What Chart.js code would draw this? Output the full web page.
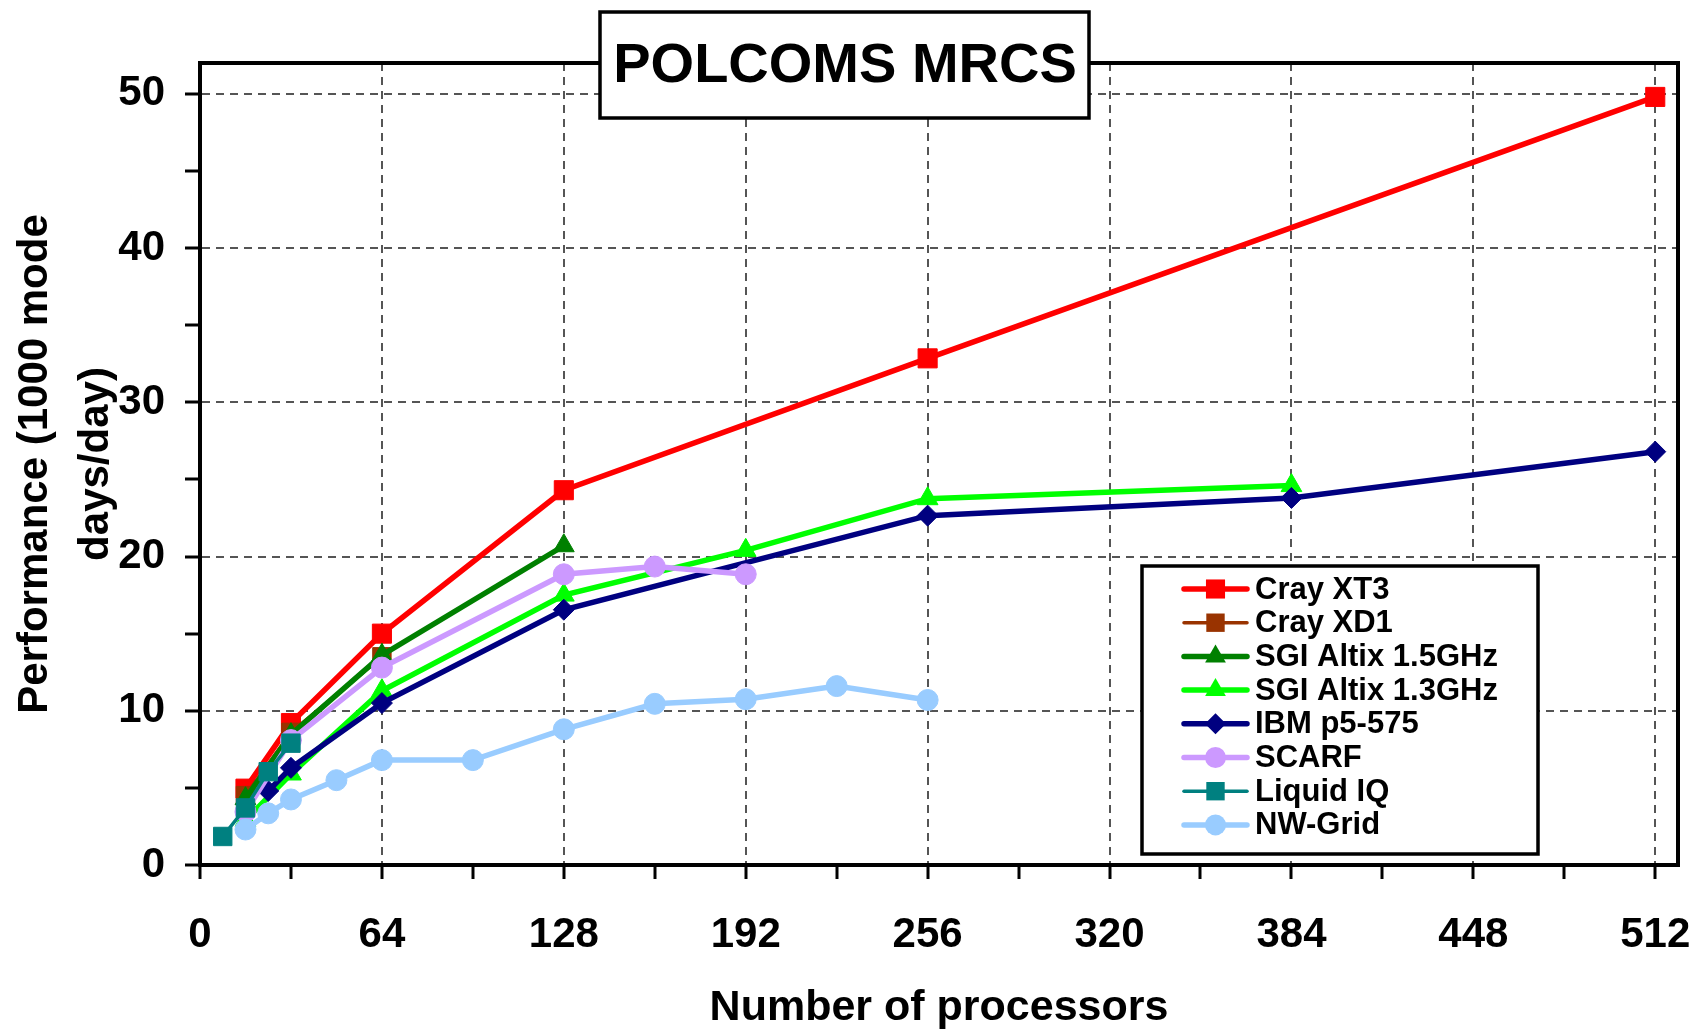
<!DOCTYPE html>
<html>
<head>
<meta charset="utf-8">
<title>POLCOMS MRCS</title>
<script src="https://cdn.jsdelivr.net/npm/chart.js@4.4.1/dist/chart.umd.min.js"></script>
<style>
  html, body { margin: 0; padding: 0; background: #fff; }
  #wrap { width: 1700px; height: 1031px; position: relative; }
</style>
</head>
<body>
<div id="wrap"><canvas id="perfChart"></canvas></div>
<script>
// POLCOMS MRCS - performance against number of processors

const chartTitle = "POLCOMS MRCS";
const xTitle = "Number of processors";
const yTitle = ["Performance (1000 mode", "days/day)"];

const seriesNames = ["Cray XT3", "Cray XD1", "SGI Altix 1.5GHz", "SGI Altix 1.3GHz",
                     "IBM p5-575", "SCARF", "Liquid IQ", "NW-Grid"];

// values
const crayXT3Procs = [16, 32, 64, 128, 256, 512];
const crayXT3Perf  = [4.95, 9.2, 15.0, 24.3, 32.85, 49.8];

const crayXD1Procs = [16, 32, 64];
const crayXD1Perf  = [4.5, 8.6, 13.5];

const altix15Procs = [16, 32, 64, 128];
const altix15Perf  = [4.3, 8.45, 13.6, 20.7];

const altix13Procs = [16, 32, 64, 128, 192, 256, 384];
const altix13Perf  = [2.9, 5.9, 11.3, 17.5, 20.4, 23.75, 24.6];

const ibmProcs = [24, 32, 64, 128, 256, 384, 512];
const ibmPerf  = [4.8, 6.3, 10.5, 16.55, 22.65, 23.8, 26.8];

const scarfProcs = [16, 32, 64, 128, 160, 192];
const scarfPerf  = [3.45, 8.1, 12.8, 18.85, 19.35, 18.85];

const liquidProcs = [8, 16, 24, 32];
const liquidPerf  = [1.85, 3.7, 6.05, 7.9];

const nwGridProcs = [16, 24, 32, 48, 64, 96, 128, 160, 192, 224, 256];
const nwGridPerf  = [2.3, 3.35, 4.25, 5.5, 6.8, 6.8, 8.8, 10.45, 10.75, 11.6, 10.7];

const xTickLabels = [0, 64, 128, 192, 256, 320, 384, 448, 512];
const yTickLabels = [0, 10, 20, 30, 40, 50];

// styles
const seriesColors = ["#FF0000", "#993300", "#008000", "#00FF00", "#000080", "#CC99FF", "#008080", "#99CCFF"];
const seriesMarkers = ["rect", "rect", "triangle", "triangle", "rectRot", "circle", "rect", "circle"];
const markerSizes = [13.5, 13, 12, 12, 10.5, 10.5, 13, 10.5];
const lineWidths = [5.5, 3.5, 5.5, 5.5, 5.5, 5.5, 3.5, 5.5];

const allProcs = [crayXT3Procs, crayXD1Procs, altix15Procs, altix13Procs, ibmProcs, scarfProcs, liquidProcs, nwGridProcs];
const allPerf  = [crayXT3Perf, crayXD1Perf, altix15Perf, altix13Perf, ibmPerf, scarfPerf, liquidPerf, nwGridPerf];

const fontFamily = "'Liberation Sans', Arial, sans-serif";
Chart.defaults.font.family = fontFamily;
Chart.defaults.color = '#000';

const datasets = seriesNames.map(function(name, i) {
    return {
        label: name,
        data: allProcs[i].map(function(p, j) { return { x: p, y: allPerf[i][j] }; }),
        borderColor: seriesColors[i],
        backgroundColor: seriesColors[i],
        borderWidth: lineWidths[i],
        pointStyle: seriesMarkers[i],
        pointRadius: markerSizes[i],
        pointHoverRadius: markerSizes[i],
        pointBorderWidth: 1,
        pointBorderColor: seriesColors[i],
        pointBackgroundColor: seriesColors[i],
        tension: 0,
        order: seriesNames.length - i   // later series drawn on top
    };
});

function drawMarker(ctx, style, x, y, r, color) {
    ctx.fillStyle = color;
    ctx.beginPath();
    if (style === 'rect') {
        const s = Math.SQRT1_2 * r;
        ctx.rect(x - s, y - s, 2 * s, 2 * s);
    } else if (style === 'rectRot') {
        ctx.moveTo(x - r, y); ctx.lineTo(x, y - r); ctx.lineTo(x + r, y); ctx.lineTo(x, y + r);
        ctx.closePath();
    } else if (style === 'triangle') {
        ctx.moveTo(x, y - r);
        ctx.lineTo(x + Math.sin(2 * Math.PI / 3) * r, y + r / 2);
        ctx.lineTo(x - Math.sin(2 * Math.PI / 3) * r, y + r / 2);
        ctx.closePath();
    } else {
        ctx.arc(x, y, r, 0, Math.PI * 2);
    }
    ctx.fill();
}

// frame, title box and legend box
const decorPlugin = {
    id: 'decor',
    afterDraw(chart) {
        const ctx = chart.ctx;
        const a = chart.chartArea;
        ctx.save();
        ctx.lineWidth = 4;
        ctx.strokeStyle = '#000';
        ctx.setLineDash([]);
        ctx.strokeRect(a.left, a.top, a.right - a.left, a.bottom - a.top);

        // title box
        ctx.fillStyle = '#fff';
        ctx.fillRect(600, 12, 489, 106);
        ctx.lineWidth = 3.5;
        ctx.strokeRect(600, 12, 489, 106);
        ctx.fillStyle = '#000';
        ctx.font = "bold 56px " + fontFamily;
        ctx.textAlign = 'center';
        ctx.textBaseline = 'middle';
        ctx.fillText(chartTitle, 845, 67);

        // legend box
        const lx = 1142, ly = 566, lw = 396, lh = 288;
        ctx.fillStyle = '#fff';
        ctx.fillRect(lx, ly, lw, lh);
        ctx.strokeRect(lx, ly, lw, lh);
        ctx.font = "bold 31px " + fontFamily;
        ctx.textAlign = 'left';
        chart.data.datasets.forEach(function(ds, i) {
            const y = 589 + i * 33.7;
            ctx.strokeStyle = ds.borderColor;
            ctx.lineWidth = ds.borderWidth;
            ctx.lineCap = 'round';
            ctx.beginPath();
            ctx.moveTo(1184, y);
            ctx.lineTo(1247, y);
            ctx.stroke();
            drawMarker(ctx, ds.pointStyle, 1215.5, y, ds.pointRadius, ds.backgroundColor);
            ctx.fillStyle = '#000';
            ctx.fillText(ds.label, 1255, y + 1);
        });
        ctx.restore();
    }
};

const gridColor = '#555';

const ctx = document.getElementById('perfChart').getContext('2d');
const perfChart = new Chart(ctx, {
    type: 'line',
    data: { datasets: datasets },
    plugins: [decorPlugin],
    options: {
        responsive: true,
        maintainAspectRatio: false,
        animation: false,
        layout: { padding: { left: 0, top: 63, right: 22, bottom: 0 } },
        plugins: {
            legend: { display: false },
            title: { display: false },
            tooltip: { enabled: false }
        },
        scales: {
            x: {
                type: 'linear',
                min: 0,
                max: 520,
                afterFit: function(scale) {
                    scale.height = 166;
                    scale.paddingLeft = 0;
                    scale.paddingRight = 0;
                },
                ticks: {
                    stepSize: 32,
                    includeBounds: false,
                    autoSkip: false,
                    maxRotation: 0,
                    padding: 31,
                    font: { size: 42, weight: 'bold' },
                    color: '#000',
                    callback: function(v) { return xTickLabels.indexOf(v) >= 0 ? String(v) : ''; }
                },
                grid: {
                    color: function(c) { return (c.tick && c.tick.value > 0 && c.tick.value % 64 === 0) ? gridColor : 'rgba(0,0,0,0)'; },
                    lineWidth: 2,
                    tickColor: '#000',
                    tickWidth: 3,
                    tickLength: 14,
                    tickBorderDash: []
                },
                border: { display: true, color: '#000', width: 4, dash: [8, 6] },
                title: {
                    display: true,
                    text: xTitle,
                    color: '#000',
                    font: { size: 43, weight: 'bold', lineHeight: 1.05 },
                    padding: { top: 0, bottom: 0 }
                }
            },
            y: {
                type: 'linear',
                min: 0,
                max: 52,
                afterFit: function(scale) { scale.width = 200; },
                ticks: {
                    stepSize: 5,
                    includeBounds: false,
                    autoSkip: false,
                    padding: 20,
                    font: { size: 42, weight: 'bold' },
                    color: '#000',
                    callback: function(v) { return yTickLabels.indexOf(v) >= 0 ? String(v) : ''; }
                },
                grid: {
                    color: function(c) { return (c.tick && c.tick.value > 0 && c.tick.value % 10 === 0) ? gridColor : 'rgba(0,0,0,0)'; },
                    lineWidth: 2,
                    tickColor: '#000',
                    tickWidth: 3,
                    tickLength: 15,
                    tickBorderDash: []
                },
                border: { display: true, color: '#000', width: 4, dash: [8, 6] },
                title: {
                    display: true,
                    text: yTitle,
                    color: '#000',
                    font: { size: 42, weight: 'bold', lineHeight: 1.45 },
                    padding: { top: 5, bottom: 0 }
                }
            }
        }
    }
});
</script>
</body>
</html>
